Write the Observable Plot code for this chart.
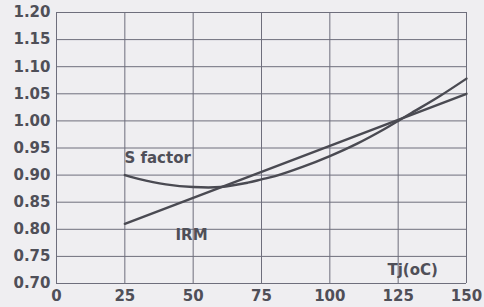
<!DOCTYPE html>
<html><head><meta charset="utf-8">
<script src="https://cdn.jsdelivr.net/npm/d3@7"></script>
<script src="https://cdn.jsdelivr.net/npm/@observablehq/plot@0.6"></script>
<style>
html,body{margin:0;padding:0;background:#efeef1;}
svg{display:block;}
svg text{font-family:'DejaVu Sans', sans-serif;font-weight:bold;}
</style></head><body><div id="chart"></div>
<script>
const xTicks = [0, 25, 50, 75, 100, 125, 150];
const yTicks = [0.70, 0.75, 0.80, 0.85, 0.90, 0.95, 1.00, 1.05, 1.10, 1.15, 1.20];
const irmX = [25, 150];
const irmY = [0.810, 1.050];
const sX = [25, 30, 40, 50, 60, 70, 75, 80, 90, 100, 110, 120, 125, 130, 140, 150];
const sY = [0.900, 0.893, 0.883, 0.878, 0.878, 0.886, 0.892, 0.898, 0.915, 0.935, 0.958, 0.985, 1.000, 1.015, 1.045, 1.078];
const labels = [
  {x: 37, y: 0.931, text: "S factor"},
  {x: 49.4, y: 0.789, text: "IRM"},
  {x: 130.3, y: 0.724, text: "Tj(oC)"}
];
const irm = irmX.map((x, i) => ({x, y: irmY[i]}));
const sf = sX.map((x, i) => ({x, y: sY[i]}));
const font = "'DejaVu Sans', sans-serif";
const chart = Plot.plot({
  width: 484, height: 307,
  marginLeft: 56, marginRight: 18, marginTop: 12, marginBottom: 24,
  style: {background: "#efeef1", fontFamily: font, fontSize: "15px", fontWeight: "bold", color: "#4f4f58"},
  x: {domain: [0, 150], ticks: xTicks, tickSize: 0, tickPadding: 7, label: null},
  y: {domain: [0.70, 1.20], ticks: yTicks, tickSize: 0, tickPadding: 6, label: null, tickFormat: d => d.toFixed(2)},
  marks: [
    Plot.ruleY(yTicks, {stroke: "#6e6e7c", strokeWidth: 1}),
    Plot.ruleX(xTicks, {stroke: "#6e6e7c", strokeWidth: 1}),
    Plot.line(sf, {x: "x", y: "y", curve: "catmull-rom", stroke: "#4a4a52", strokeWidth: 2.4}),
    Plot.line(irm, {x: "x", y: "y", stroke: "#4a4a52", strokeWidth: 2.4}),
    Plot.text(labels, {x: "x", y: "y", text: "text", fontSize: 15, fontWeight: "bold", fill: "#4f4f58", fontFamily: font})
  ]
});
document.getElementById("chart").appendChild(chart);
</script></body></html>
